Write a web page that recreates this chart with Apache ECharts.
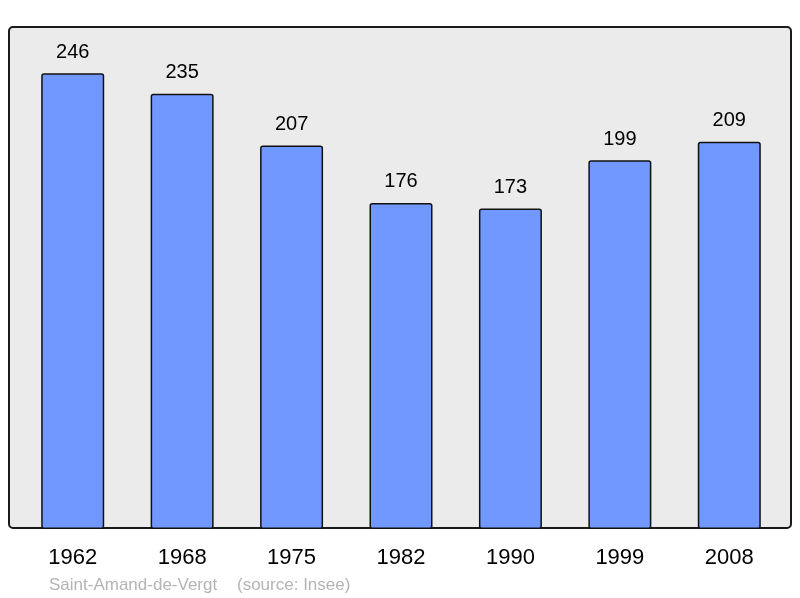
<!DOCTYPE html>
<html><head><meta charset="utf-8">
<script src="https://cdn.jsdelivr.net/npm/echarts@6/dist/echarts.min.js"></script>
<style>html,body{margin:0;padding:0;background:#fff}#c{width:800px;height:598px}</style>
</head><body><div id="c"></div>
<script>
const years = ['1962','1968','1975','1982','1990','1999','2008'];
const population = [246,235,207,176,173,199,209];
const placeName = 'Saint-Amand-de-Vergt';
const sourceNote = '(source: Insee)';

const chart = echarts.init(document.getElementById('c'), null, {renderer:'canvas'});
chart.setOption({
  animation:false,
  backgroundColor:'#ffffff',
  graphic:[
    {type:'rect', z:0, shape:{x:9,y:27,width:782,height:501,r:4}, style:{fill:'#ebebeb',stroke:'#1a1a1a',lineWidth:2}},
    {type:'text', left:49, top:577, style:{text:placeName, fill:'#b4b4b4', font:'17px "Liberation Sans", Arial, sans-serif'}},
    {type:'text', left:237, top:577, style:{text:sourceNote, fill:'#b4b4b4', font:'17px "Liberation Sans", Arial, sans-serif'}}
  ],
  grid:{left:18, right:16, top:27, bottom:69},
  xAxis:{type:'category', data:years, axisLine:{show:false}, axisTick:{show:false},
    axisLabel:{color:'#000', fontSize:22, fontFamily:'"Liberation Sans", Arial, sans-serif', margin:18}},
  yAxis:{type:'value', min:0, max:271, show:false, splitLine:{show:false}},
  series:[{type:'bar', data:population, barWidth:63, z:3,
    itemStyle:{color:'#7098ff', borderColor:'#111', borderWidth:1.5, borderRadius:2},
    label:{show:true, position:'top', distance:11, color:'#000', fontSize:20, fontFamily:'"Liberation Sans", Arial, sans-serif'}}]
});
</script></body></html>
